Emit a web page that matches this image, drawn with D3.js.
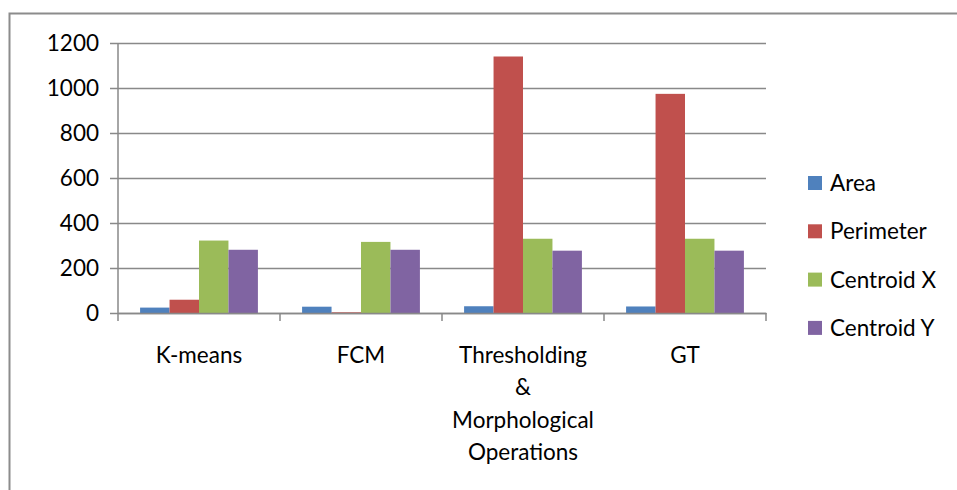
<!DOCTYPE html>
<html>
<head>
<meta charset="utf-8">
<script src="https://cdn.jsdelivr.net/npm/d3@7"></script>
<style>
  body { margin: 0; background: #fff; }
  text { font-family: Lato, "Open Sans", sans-serif; fill: #000; }
</style>
</head>
<body>
<div id="chart"></div>
<script>
var categories = ["K-means", "FCM", "Thresholding & Morphological Operations", "GT"];
var categoryLines = [["K-means"], ["FCM"], ["Thresholding", "&", "Morphological", "Operations"], ["GT"]];
var seriesNames = ["Area", "Perimeter", "Centroid X", "Centroid Y"];
var area = [24, 28, 30, 29];
var perimeter = [59, 3, 1140, 974];
var centroidX = [322, 316, 330, 330];
var centroidY = [281, 281, 277, 277];
var yTicks = [0, 200, 400, 600, 800, 1000, 1200];
var colors = ["#4F81BD", "#C0504D", "#9BBB59", "#8064A2"];

var W = 957, H = 490;
var x0 = 118, x1 = 766, yTop = 43, yBase = 313;
var fs = "22.5px";

var svg = d3.select("#chart").append("svg")
    .attr("width", W).attr("height", H);

// outer frame
svg.append("rect")
    .attr("x", 9.5).attr("y", 13.5)
    .attr("width", 1000).attr("height", 600)
    .attr("fill", "none")
    .attr("stroke", "#8c8c8c")
    .attr("stroke-width", 2);

var xScale = d3.scaleBand()
    .domain(categories)
    .range([x0, x1]);

var yScale = d3.scaleLinear()
    .domain([0, 1200])
    .range([yBase, yTop]);

var bandPad = xScale.bandwidth() * 0.75 / 5.5;
var xInner = d3.scaleBand()
    .domain(seriesNames)
    .range([bandPad, xScale.bandwidth() - bandPad]);

// gridlines + y axis
var yAxis = d3.axisLeft(yScale).tickValues(yTicks).tickFormat(d3.format("d"))
    .tickSize(-(x1 - x0)).tickPadding(19);
var gy = svg.append("g")
    .attr("transform", "translate(" + x0 + ",0)")
    .call(yAxis);
gy.select(".domain").remove();
gy.selectAll(".tick line")
    .attr("x1", -8)
    .attr("stroke", "#898989")
    .attr("stroke-width", 1.5);
gy.selectAll(".tick text")
    .style("font-size", fs)
    .style("font-family", "Lato, sans-serif")
    .attr("fill", "#000");

svg.append("line")
    .attr("x1", x0).attr("x2", x0)
    .attr("y1", yTop).attr("y2", yBase)
    .attr("stroke", "#898989").attr("stroke-width", 1.5);

// bars
var data = [area, perimeter, centroidX, centroidY];
seriesNames.forEach(function (s, i) {
    svg.append("g").selectAll("rect")
        .data(data[i])
        .enter()
        .append("rect")
        .attr("x", function (d, j) { return xScale(categories[j]) + xInner(s); })
        .attr("y", function (d) { return yScale(d); })
        .attr("width", xInner.bandwidth())
        .attr("height", function (d) { return yBase - yScale(d); })
        .attr("fill", colors[i]);
});

// x axis
var xAxis = d3.axisBottom(xScale).tickValues([]).tickSizeOuter(0);
var gx = svg.append("g")
    .attr("transform", "translate(0," + yBase + ")")
    .call(xAxis);
gx.select(".domain").attr("stroke", "#898989").attr("stroke-width", 1.5);
var bounds = [x0].concat(categories.map(function (c) { return xScale(c) + xScale.bandwidth(); }));
gx.selectAll(".sep")
    .data(bounds)
    .enter()
    .append("line")
    .attr("x1", function (d) { return d; })
    .attr("x2", function (d) { return d; })
    .attr("y1", 0).attr("y2", 8)
    .attr("stroke", "#898989").attr("stroke-width", 1.5);

categories.forEach(function (c, i) {
    var t = svg.append("text")
        .attr("text-anchor", "middle")
        .style("font-size", fs);
    categoryLines[i].forEach(function (line, k) {
        t.append("tspan")
            .attr("x", xScale(c) + xScale.bandwidth() / 2)
            .attr("y", 363 + k * 32.3)
            .text(line);
    });
});

// legend
var legend = svg.append("g");
seriesNames.forEach(function (s, i) {
    var cy = 183 + i * 48.3;
    legend.append("rect")
        .attr("x", 808).attr("y", cy - 7)
        .attr("width", 14).attr("height", 14)
        .attr("fill", colors[i]);
    legend.append("text")
        .attr("x", 830).attr("y", cy + 8)
        .style("font-size", fs)
        .text(s);
});
</script>
</body>
</html>
